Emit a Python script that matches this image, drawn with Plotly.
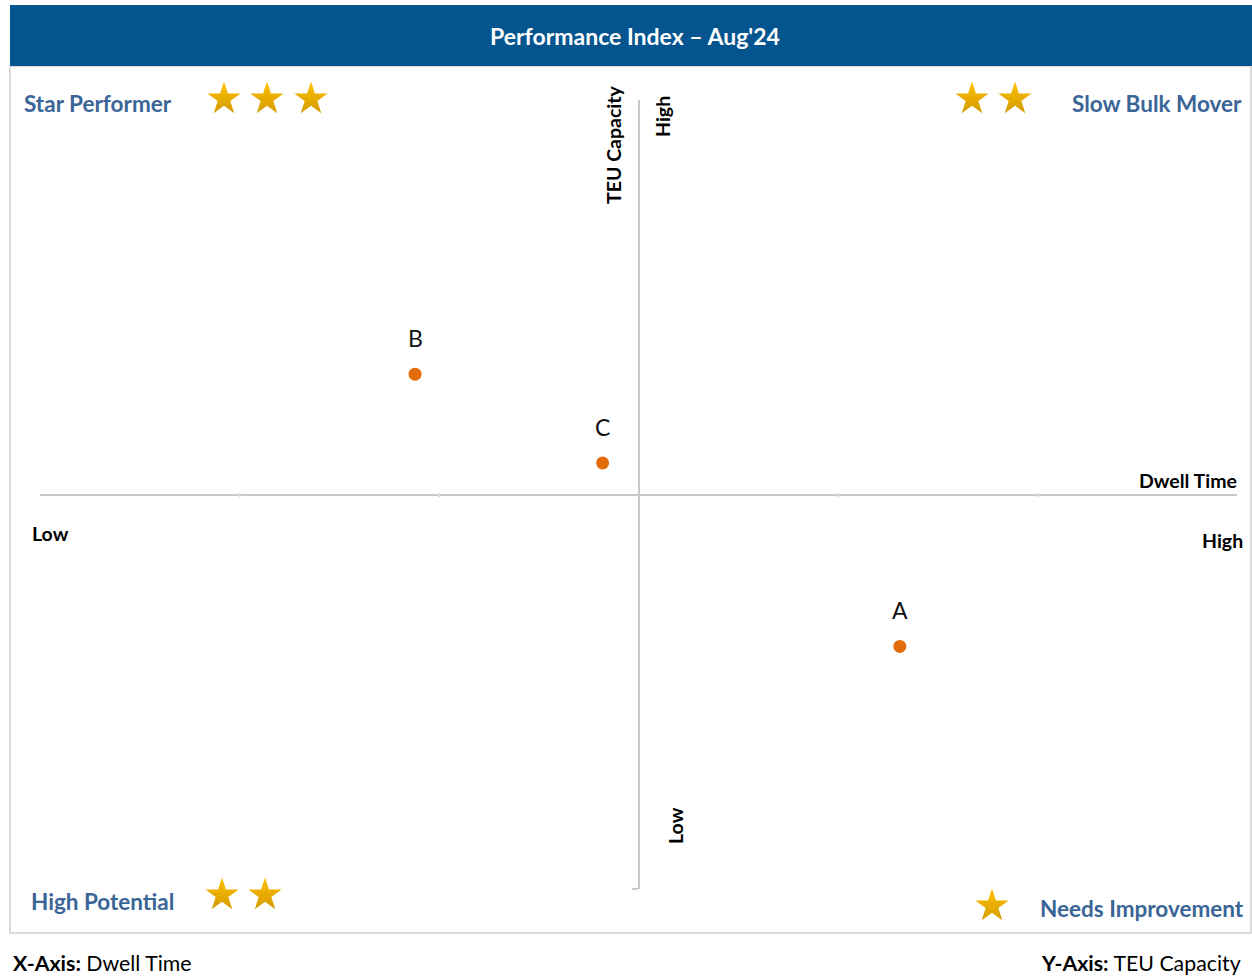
import plotly.graph_objects as go

W, H = 1252, 976

# Terminal positions on the Dwell Time / TEU Capacity grid
terminals = ["A", "B", "C"]
dwell_time = [1.31, -1.12, -0.18]
teu_capacity = [-0.77, 0.61, 0.16]

x_ticks = [-2, -1, 1, 2]

# Quadrant captions and their star ratings
quadrants = ["Star Performer", "Slow Bulk Mover", "High Potential", "Needs Improvement"]
star_counts = [3, 2, 2, 1]

TITLE = "Performance Index – Aug'24"
FONT = "Lato, 'Open Sans', sans-serif"
BLUE = "#04558F"
LABEL_BLUE = "#3A6597"
AXIS_GRAY = "#C9C9C9"


def px(x):
    return x / W


def py(y):
    return 1 - y / H


fig = go.Figure()

# scatter points
fig.add_trace(go.Scatter(
    x=dwell_time, y=teu_capacity, mode="markers",
    marker=dict(color="#E36C0A", size=13),
    cliponaxis=False, hoverinfo="skip", showlegend=False,
    xaxis="x", yaxis="y",
))

# star ratings drawn on a page-pixel overlay
star_pos = {
    "Star Performer": ([224, 267, 311], 99),
    "Slow Bulk Mover": ([972, 1015], 99),
    "High Potential": ([222, 265], 895),
    "Needs Improvement": ([992], 906),
}
sx, sy = [], []
for q, n in zip(quadrants, star_counts):
    xs, yv = star_pos[q]
    sx += xs[:n]
    sy += [yv] * n
fig.add_trace(go.Scatter(
    x=sx, y=sy, mode="markers",
    marker=dict(symbol="star", size=25, color="#FFC000",
                gradient=dict(type="vertical", color="#D49B00"),
                line=dict(width=0)),
    hoverinfo="skip", showlegend=False, xaxis="x2", yaxis="y2",
))

shapes = [
    # outer frame
    dict(type="rect", xref="paper", yref="paper", x0=px(10), x1=px(1251), y0=py(933), y1=py(66),
         line=dict(color="#D0D0D0", width=1.5), fillcolor="rgba(0,0,0,0)", layer="below"),
    # title band
    dict(type="rect", xref="paper", yref="paper", x0=px(10), x1=px(1252), y0=py(66), y1=py(5),
         line=dict(width=0), fillcolor=BLUE, layer="below"),
    # small end tick on vertical axis
    dict(type="line", xref="paper", yref="paper", x0=px(632), x1=px(638), y0=py(889), y1=py(889),
         line=dict(color=AXIS_GRAY, width=2)),
]
for t in x_ticks:
    shapes.append(dict(type="line", xref="x", yref="paper", x0=t, x1=t,
                       y0=py(493), y1=py(497), line=dict(color="#DDDDDD", width=2)))

ann = []

# point names above each marker
for name, xv, yv in zip(terminals, dwell_time, teu_capacity):
    ann.append(dict(
        xref="x", yref="y", x=xv, y=yv, text=name, showarrow=False,
        xanchor="center", yanchor="middle", yshift=36,
        font=dict(family=FONT, size=23, color="#111111"),
    ))


def text(x, y, s, size, color="#000000", bold=True, xanchor="center", angle=0):
    ann.append(dict(
        xref="paper", yref="paper", x=px(x), y=py(y), text=f"<b>{s}</b>" if bold else s,
        showarrow=False, xanchor=xanchor, yanchor="middle", textangle=angle,
        font=dict(family=FONT, size=size, color=color),
    ))


text(635, 36, TITLE, 23, color="#FFFFFF")

quad_pos = {
    "Star Performer": (22, 103, "left"),
    "Slow Bulk Mover": (1244, 103, "right"),
    "High Potential": (29, 901, "left"),
    "Needs Improvement": (1246, 908, "right"),
}
for q in quadrants:
    x, y, a = quad_pos[q]
    text(x, y, q, 22.5, color=LABEL_BLUE, xanchor=a)

text(613, 145, "TEU Capacity", 19.5, angle=-90)
text(663, 117, "High", 19.5, angle=-90)
text(675, 826, "Low", 19.5, angle=-90)
text(1239, 480, "Dwell Time", 19.5, xanchor="right")
text(30, 533, "Low", 19.5, xanchor="left")
text(1245, 540, "High", 19.5, xanchor="right")

text(11, 963, "<b>X-Axis:</b> Dwell Time", 21.3, bold=False, xanchor="left")
text(1243, 963, "<b>Y-Axis:</b> TEU Capacity", 21.3, bold=False, xanchor="right")

fig.update_layout(
    width=W, height=H, margin=dict(l=0, r=0, t=0, b=0),
    paper_bgcolor="#FFFFFF", plot_bgcolor="rgba(0,0,0,0)",
    shapes=shapes, annotations=ann,
    xaxis=dict(domain=[px(40), px(1237)], range=[-3, 3], showgrid=False,
               zeroline=True, zerolinecolor=AXIS_GRAY, zerolinewidth=2,
               showticklabels=False, ticks="", showline=False, fixedrange=True),
    yaxis=dict(domain=[py(889), py(100)], range=[-2, 2], showgrid=False,
               zeroline=True, zerolinecolor=AXIS_GRAY, zerolinewidth=2,
               showticklabels=False, ticks="", showline=False, fixedrange=True),
    xaxis2=dict(domain=[0, 1], range=[0, W], visible=False, anchor="y2", fixedrange=True),
    yaxis2=dict(domain=[0, 1], range=[H, 0], visible=False, anchor="x2", fixedrange=True),
)

fig.write_html("out.html")
